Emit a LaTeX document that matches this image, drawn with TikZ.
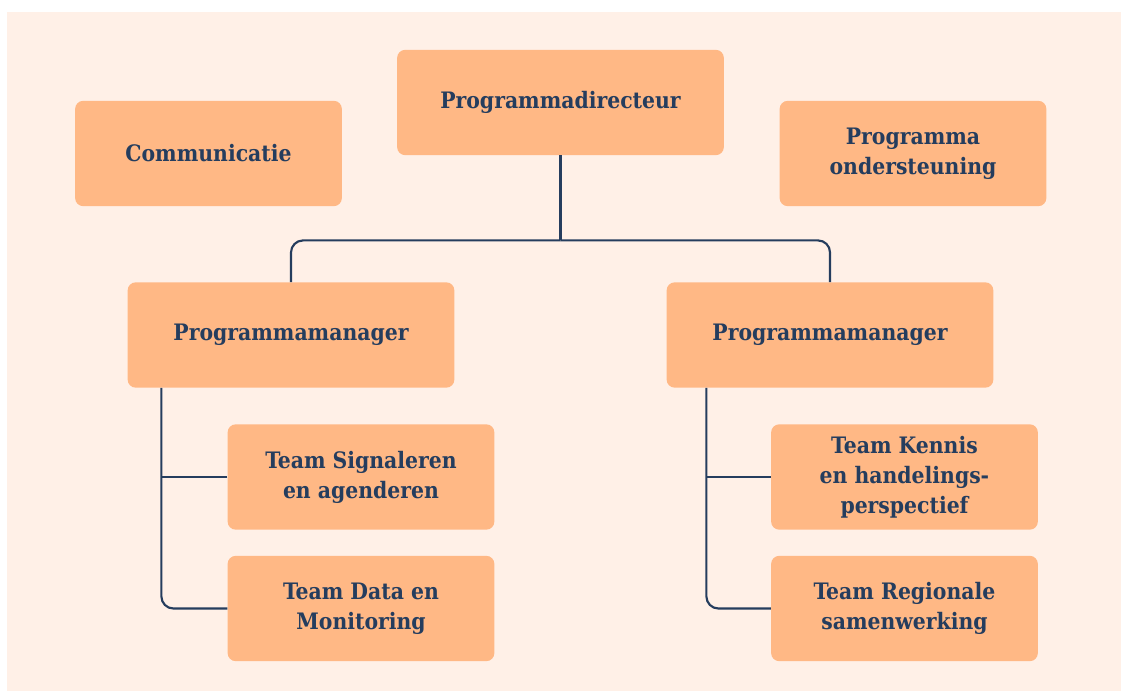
\documentclass[tikz,border=0pt]{standalone}
\usepackage{fontspec}
\setmainfont{DejaVu Serif Condensed}
\usetikzlibrary{positioning,calc}
\definecolor{bgpeach}{HTML}{FFF0E7}
\definecolor{boxorange}{HTML}{FFB885}
\definecolor{navy}{HTML}{253D5E}

\begin{document}
\begin{tikzpicture}[
    x=0.75pt, y=-0.75pt,
    box/.style={fill=boxorange, rounded corners=6pt, align=center, inner sep=0pt,
      minimum width=245pt, minimum height=79pt, text=navy,
      font=\fontsize{17}{22.5}\selectfont\bfseries},
    smallbox/.style={box, minimum width=200pt},
    link/.style={draw=navy, line width=1.6pt, rounded corners=9pt}
  ]
  \useasboundingbox (0,0) rectangle (1121,691);
  \fill[bgpeach] (7,12) rectangle (1121,691);

  \node[box] (dir) at (560.5,102.5) {Programmadirecteur};
  \node[smallbox] (comm) at (208.5,153.5) {Communicatie};
  \node[smallbox] (supp) at (913,153.5) {Programma\\ondersteuning};
  \node[box] (pmL) at (291,335) {Programmamanager};
  \node[box] (pmR) at (830,335) {Programmamanager};
  \node[smallbox] (tsig) at (361,477) {Team Signaleren\\en agenderen};
  \node[smallbox] (tdata) at (361,608.5) {Team Data en\\Monitoring};
  \node[smallbox] (tkennis) at (904.5,477) {Team Kennis\\en handelings-\\perspectief};
  \node[smallbox] (treg) at (904.5,608.5) {Team Regionale\\samenwerking};

  % director to managers
  \coordinate (split) at ($(dir.south)+(0,85)$);
  \draw[link] (dir.south) -- (split);
  \draw[link] (split) -| (pmL.north);
  \draw[link] (split) -| (pmR.north);

  % managers to teams
  \coordinate (spineL) at ($(pmL.south west)+(34,0)$);
  \coordinate (spineR) at ($(pmR.south west)+(40,0)$);
  \draw[link] (spineL) |- (tdata.west);
  \draw[link] (tsig.west) -- (tsig.west -| spineL);
  \draw[link] (spineR) |- (treg.west);
  \draw[link] (tkennis.west) -- (tkennis.west -| spineR);
\end{tikzpicture}
\end{document}
